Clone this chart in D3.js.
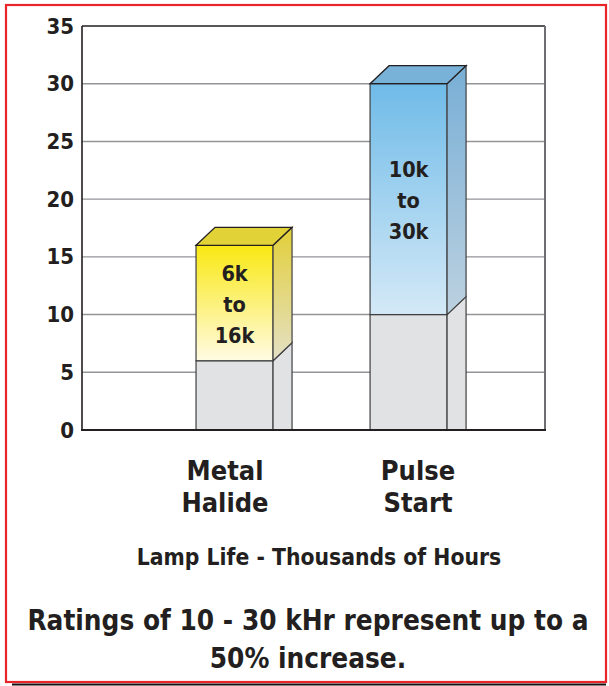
<!DOCTYPE html>
<html>
<head>
<meta charset="utf-8">
<script src="https://cdn.jsdelivr.net/npm/d3@7"></script>
<style>
  html, body { margin: 0; padding: 0; background: #fff; }
  svg { display: block; }
  text { font-family: "DejaVu Sans Condensed", "DejaVu Sans", sans-serif; font-weight: bold; font-stretch: condensed; fill: #231f20; }
</style>
</head>
<body>
<script>
// ---- data ----
const categories = ["Metal Halide", "Pulse Start"];
const categoryLines = [["Metal", "Halide"], ["Pulse", "Start"]];
const baseValues = [6, 10];
const topValues = [16, 30];
const rangeLabels = [["6k", "to", "16k"], ["10k", "to", "30k"]];
const yTicks = [0, 5, 10, 15, 20, 25, 30, 35];
const axisTitle = "Lamp Life - Thousands of Hours";
const noteLines = ["Ratings of 10 - 30 kHr represent up to a", "50% increase."];

// ---- layout ----
const W = 609, H = 686;
const plot = { left: 82, right: 545, top: 26, bottom: 430 };
const depthX = 19, depthY = 18;

const svg = d3.select("body").append("svg").attr("width", W).attr("height", H);
const defs = svg.append("defs");

function grad(id, top, bottom) {
  const g = defs.append("linearGradient").attr("id", id)
    .attr("x1", 0).attr("y1", 0).attr("x2", 0).attr("y2", 1);
  g.append("stop").attr("offset", "0%").attr("stop-color", top);
  g.append("stop").attr("offset", "100%").attr("stop-color", bottom);
}
grad("yFront", "#f9e813", "#fffbe3");
grad("ySide", "#e2cf38", "#e4e0c6");
grad("bFront", "#6fbbe8", "#d4e9f7");
grad("bSide", "#78afd6", "#bcd1e0");
const palette = [
  { front: "url(#yFront)", side: "url(#ySide)", top: "#e1d238" },
  { front: "url(#bFront)", side: "url(#bSide)", top: "#79b2d8" }
];
const baseFill = "#e1e2e4";

// border with bottom shadow
svg.append("line").attr("x1", 12).attr("x2", 606).attr("y1", 684.5).attr("y2", 684.5)
  .attr("stroke", "#111").attr("stroke-width", 2);
svg.append("rect").attr("x", 6).attr("y", 5).attr("width", 600).attr("height", 677)
  .attr("fill", "#fff").attr("stroke", "#e8262a").attr("stroke-width", 2.2);

// scales
const y = d3.scaleLinear().domain([0, 35]).range([plot.bottom, plot.top]);
const x = d3.scaleBand().domain(categories).range([plot.left, plot.right])
  .paddingInner(0.5575).paddingOuter(0.609).align(0.538);
const xLabel = d3.scalePoint().domain(categories).range([225, 418]);

// gridlines
svg.append("g").selectAll("line").data(yTicks.filter(t => t > 0 && t < 35)).join("line")
  .attr("x1", plot.left).attr("x2", plot.right)
  .attr("y1", d => y(d)).attr("y2", d => y(d))
  .attr("stroke", "#939598").attr("stroke-width", 1.4);

// y axis labels
const yAxis = d3.axisLeft(y).tickValues(yTicks).tickSize(0).tickPadding(8);
const gy = svg.append("g").attr("transform", `translate(${plot.left},0)`).call(yAxis);
gy.select(".domain").remove();
gy.attr("font-family", null).attr("font-size", null);
gy.selectAll("text").attr("font-size", 22).attr("fill", "#231f20");

// frame
svg.append("line").attr("x1", plot.left).attr("x2", plot.right).attr("y1", y(35)).attr("y2", y(35))
  .attr("stroke", "#231f20").attr("stroke-width", 1.6);
svg.append("line").attr("x1", plot.right).attr("x2", plot.right).attr("y1", y(35)).attr("y2", y(0))
  .attr("stroke", "#6d6e71").attr("stroke-width", 2);
svg.append("line").attr("x1", plot.left).attr("x2", plot.left).attr("y1", y(35)).attr("y2", y(0))
  .attr("stroke", "#231f20").attr("stroke-width", 1.6);

// bars
const bars = categories.map((c, i) => ({ c, i, lo: baseValues[i], hi: topValues[i] }));
const edge = "#414042";
const gBars = svg.append("g");
bars.forEach(b => {
  const x0 = x(b.c), x1 = x(b.c) + x.bandwidth();
  const yl = y(b.lo), yh = y(b.hi), y0 = y(0);
  const g = gBars.append("g");
  const pal = palette[b.i];
  const poly = pts => pts.map(p => p.join(",")).join(" ");
  g.append("rect").attr("x", x0).attr("y", yl).attr("width", x1 - x0).attr("height", y0 - yl)
    .attr("fill", baseFill).attr("stroke", edge).attr("stroke-width", 1.2);
  g.append("polygon").attr("points", poly([[x1, yl], [x1 + depthX, yl - depthY], [x1 + depthX, y0], [x1, y0]]))
    .attr("fill", baseFill).attr("stroke", edge).attr("stroke-width", 1.2);
  g.append("rect").attr("x", x0).attr("y", yh).attr("width", x1 - x0).attr("height", yl - yh)
    .attr("fill", pal.front).attr("stroke", edge).attr("stroke-width", 1.2);
  g.append("polygon").attr("points", poly([[x1, yh], [x1 + depthX, yh - depthY], [x1 + depthX, yl - depthY], [x1, yl]]))
    .attr("fill", pal.side).attr("stroke", edge).attr("stroke-width", 1.2);
  g.append("polygon").attr("points", poly([[x0, yh], [x0 + depthX, yh - depthY], [x1 + depthX, yh - depthY], [x1, yh]]))
    .attr("fill", pal.top).attr("stroke", "#231f20").attr("stroke-width", 1.3);
  const mid = y((b.lo + b.hi) / 2);
  g.append("g").selectAll("text").data(rangeLabels[b.i]).join("text")
    .attr("x", (x0 + x1) / 2).attr("y", (d, k) => mid + (k - 1) * 31 + 1)
    .attr("text-anchor", "middle").attr("dominant-baseline", "central")
    .attr("font-size", 21.5).text(d => d);
});

// bottom axis line
svg.append("line").attr("x1", plot.left - 1).attr("x2", plot.right + 1).attr("y1", y(0)).attr("y2", y(0))
  .attr("stroke", "#231f20").attr("stroke-width", 2);

// category labels
categories.forEach((c, i) => {
  svg.append("g").selectAll("text").data(categoryLines[i]).join("text")
    .attr("x", xLabel(c)).attr("y", (d, k) => 480 + k * 31.5)
    .attr("text-anchor", "middle").attr("font-size", 27).text(d => d);
});

// axis title
svg.append("text").attr("x", 319).attr("y", 565).attr("text-anchor", "middle")
  .attr("font-size", 22.7).text(axisTitle);

// note
svg.append("g").selectAll("text").data(noteLines).join("text")
  .attr("x", 308).attr("y", (d, k) => 630 + k * 38)
  .attr("text-anchor", "middle").attr("font-size", 27.7).text(d => d);
</script>
</body>
</html>
